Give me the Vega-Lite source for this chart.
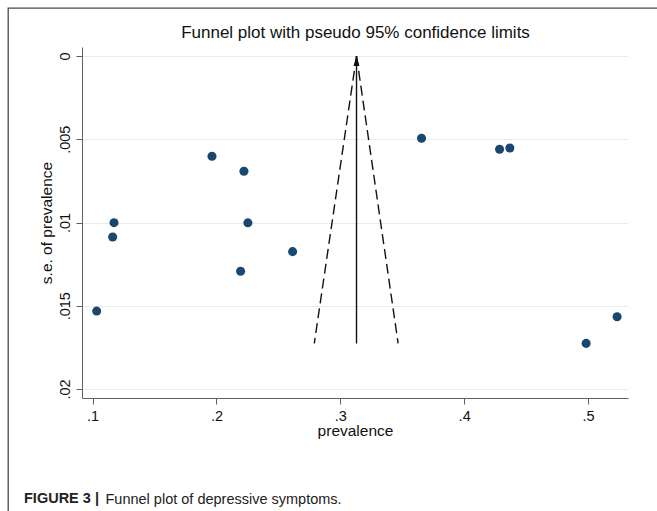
{
  "$schema": "https://vega.github.io/schema/vega-lite/v6.json",
  "width": 700,
  "height": 540,
  "autosize": {"type": "none"},
  "padding": {"left": 8, "top": 8, "right": -51, "bottom": -37},
  "background": "white",
  "config": {
    "font": "Liberation Sans",
    "view": {"stroke": "#4a4a4a", "strokeWidth": 1.3},
    "axis": {
      "labelFont": "Liberation Sans",
      "titleFont": "Liberation Sans",
      "labelFontSize": 14.5,
      "titleFontSize": 15.5,
      "titleFontWeight": "normal",
      "labelColor": "#111111",
      "titleColor": "#111111",
      "domainColor": "#606060",
      "tickColor": "#606060",
      "tickSize": 6
    }
  },
  "title": {
    "text": "FIGURE 3 |",
    "orient": "bottom",
    "anchor": "start",
    "frame": "group",
    "baseline": "alphabetic",
    "offset": -45,
    "dx": 16,
    "font": "Liberation Sans",
    "fontSize": 14.5,
    "fontWeight": "bold",
    "color": "#222222"
  },
  "datasets": {
    "studies": [
      {"prevalence": 0.1033, "se": 0.01532},
      {"prevalence": 0.1173, "se": 0.01001},
      {"prevalence": 0.1162, "se": 0.01087},
      {"prevalence": 0.1964, "se": 0.00602},
      {"prevalence": 0.2222, "se": 0.00692},
      {"prevalence": 0.2254, "se": 0.01002},
      {"prevalence": 0.2195, "se": 0.01293},
      {"prevalence": 0.2615, "se": 0.01175},
      {"prevalence": 0.3656, "se": 0.00494},
      {"prevalence": 0.4286, "se": 0.0056},
      {"prevalence": 0.4369, "se": 0.00553},
      {"prevalence": 0.4985, "se": 0.01726},
      {"prevalence": 0.5235, "se": 0.01566}
    ],
    "funnel": [
      {"line": "lower", "prevalence": 0.3131, "se": 0},
      {"line": "lower", "prevalence": 0.279, "se": 0.01726},
      {"line": "upper", "prevalence": 0.3131, "se": 0},
      {"line": "upper", "prevalence": 0.3467, "se": 0.01726},
      {"line": "pooled", "prevalence": 0.3131, "se": 0},
      {"line": "pooled", "prevalence": 0.3131, "se": 0.01726}
    ],
    "apex": [
      {"prevalence": 0.3131, "se": 0}
    ]
  },
  "layer": [
    {
      "data": {"name": "studies"},
      "mark": {"type": "point", "filled": true, "opacity": 1, "size": 82, "color": "#1a476f"},
      "encoding": {
        "x": {
          "field": "prevalence",
          "type": "quantitative",
          "title": "prevalence",
          "scale": {"domain": [0.09145, 0.5323], "range": [74, 620], "nice": false, "zero": false},
          "axis": {
            "orient": "bottom",
            "offset": -150,
            "values": [0.1, 0.2, 0.3, 0.4, 0.5],
            "labelExpr": "substring(format(datum.value, '~g'), 1)",
            "grid": false,
            "labelPadding": 5,
            "titlePadding": 1
          }
        },
        "y": {
          "field": "se",
          "type": "quantitative",
          "title": "s.e. of prevalence",
          "scale": {"domain": [-0.00054, 0.02054], "range": [39, 390], "nice": false, "zero": false},
          "axis": {
            "orient": "left",
            "offset": -74,
            "values": [0, 0.005, 0.01, 0.015, 0.02],
            "labelExpr": "datum.value == 0 ? '0' : substring(format(datum.value, '~g'), 1)",
            "labelAngle": -90,
            "labelAlign": "center",
            "labelBaseline": "bottom",
            "labelPadding": 4,
            "titlePadding": 3,
            "grid": true,
            "gridColor": "#e4ecef",
            "gridWidth": 1.2
          }
        }
      }
    },
    {
      "data": {"name": "funnel"},
      "mark": {"type": "line", "color": "#111111", "strokeWidth": 1.4},
      "encoding": {
        "x": {
          "field": "prevalence",
          "type": "quantitative",
          "scale": {"domain": [0.09145, 0.5323], "range": [74, 620], "nice": false, "zero": false},
          "axis": {
            "orient": "top",
            "offset": -33,
            "title": "Funnel plot with pseudo 95% confidence limits",
            "titleFontSize": 17,
            "titlePadding": 0,
            "labels": false,
            "ticks": false,
            "domain": false,
            "grid": false
          }
        },
        "y": {
          "field": "se",
          "type": "quantitative",
          "title": "s.e. of prevalence",
          "scale": {"domain": [-0.00054, 0.02054], "range": [39, 390], "nice": false, "zero": false},
          "axis": {
            "orient": "left",
            "offset": -74,
            "values": [0, 0.005, 0.01, 0.015, 0.02],
            "labelExpr": "datum.value == 0 ? '0' : substring(format(datum.value, '~g'), 1)",
            "labelAngle": -90,
            "labelAlign": "center",
            "labelBaseline": "bottom",
            "labelPadding": 4,
            "titlePadding": 3,
            "grid": true,
            "gridColor": "#e4ecef",
            "gridWidth": 1.2
          }
        },
        "detail": {"field": "line"},
        "order": {"field": "se"},
        "strokeDash": {
          "field": "line",
          "type": "nominal",
          "scale": {"domain": ["lower", "upper", "pooled"], "range": [[10, 5], [10, 5], [1, 0]]},
          "legend": null
        }
      }
    },
    {
      "data": {"name": "apex"},
      "mark": {"type": "point", "filled": true, "opacity": 1, "size": 100, "color": "#111111", "shape": "M0,0L-0.6,2L0.6,2Z"},
      "encoding": {
        "x": {
          "field": "prevalence",
          "type": "quantitative",
          "scale": {"domain": [0.09145, 0.5323], "range": [74, 620], "nice": false, "zero": false},
          "axis": {
            "orient": "bottom",
            "offset": -45,
            "title": "Funnel plot of depressive symptoms.",
            "titleFont": "Liberation Sans",
            "titleFontSize": 14.5,
            "titleFontWeight": "normal",
            "titleColor": "#222222",
            "titleAlign": "left",
            "titleBaseline": "alphabetic",
            "titleX": 97,
            "titleY": 0,
            "labels": false,
            "ticks": false,
            "domain": false,
            "grid": false
          }
        },
        "y": {
          "field": "se",
          "type": "quantitative",
          "title": "s.e. of prevalence",
          "scale": {"domain": [-0.00054, 0.02054], "range": [39, 390], "nice": false, "zero": false},
          "axis": {
            "orient": "left",
            "offset": -74,
            "values": [0, 0.005, 0.01, 0.015, 0.02],
            "labelExpr": "datum.value == 0 ? '0' : substring(format(datum.value, '~g'), 1)",
            "labelAngle": -90,
            "labelAlign": "center",
            "labelBaseline": "bottom",
            "labelPadding": 4,
            "titlePadding": 3,
            "grid": true,
            "gridColor": "#e4ecef",
            "gridWidth": 1.2
          }
        }
      }
    }
  ],
  "resolve": {"axis": {"x": "independent", "y": "shared"}}
}
